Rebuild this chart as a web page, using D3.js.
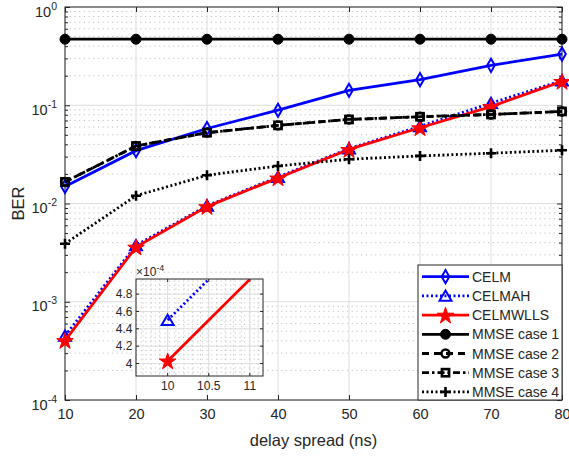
<!DOCTYPE html>
<html><head><meta charset="utf-8">
<script src="https://cdn.jsdelivr.net/npm/d3@7"></script>
<style>
body{margin:0;background:#fff}
text{font-family:"Liberation Sans",Arial,Helvetica,sans-serif;fill:#262626}
</style></head>
<body>
<svg id="c" width="569" height="457"></svg>
<script>
// ---------- data ----------
const delays   = [10, 20, 30, 40, 50, 60, 70, 80];
const celm     = [0.0149, 0.0345, 0.058, 0.089, 0.142, 0.182, 0.255, 0.332];
const celmah   = [4.5e-4, 3.75e-3, 9.5e-3, 0.0186, 0.0362, 0.061, 0.105, 0.178];
const celmwlls = [4.03e-4, 3.6e-3, 9.3e-3, 0.0182, 0.0355, 0.059, 0.097, 0.175];
const mmse1    = [0.47, 0.47, 0.47, 0.47, 0.47, 0.47, 0.47, 0.47];
const mmse2    = [0.0166, 0.0385, 0.0526, 0.0624, 0.0717, 0.0764, 0.0806, 0.0865];
const mmse3    = [0.0166, 0.0385, 0.0526, 0.0624, 0.0717, 0.0764, 0.0806, 0.0865];
const mmse4    = [0.0039, 0.012, 0.0194, 0.0241, 0.0282, 0.0305, 0.0325, 0.0348];
const xTicks   = [10, 20, 30, 40, 50, 60, 70, 80];
const yTicks   = [1e-4, 1e-3, 1e-2, 1e-1, 1];
const yTickExp = ["-4", "-3", "-2", "-1", "0"];
const seriesNames = ["CELM", "CELMAH", "CELMWLLS", "MMSE case 1", "MMSE case 2", "MMSE case 3", "MMSE case 4"];
// inset (values in units of 1e-4)
const insetCelmahX   = [10, 10.5];
const insetCelmahY   = [4.5, 4.97];
const insetCelmwllsX = [10, 11];
const insetCelmwllsY = [4.03, 4.97];
const insetXTicks = [10, 10.5, 11];
const insetYTicks = [4, 4.2, 4.4, 4.6, 4.8];
const insetXTickLabels = ["10", "10.5", "11"];
const insetYTickLabels = ["4", "4.2", "4.4", "4.6", "4.8"];

// ---------- setup ----------
const svg = d3.select("#c");
const L = 65, R = 562, T = 7, B = 400;
const x = d3.scaleLinear().domain([10, 80]).range([L, R]);
const y = d3.scaleLog().domain([1e-4, 1]).range([B, T]);
const AX = "#262626";

const minorY = [];
for (let e = -4; e < 0; e++) for (let k = 2; k <= 9; k++) minorY.push(k * Math.pow(10, e));

// grid
const grid = svg.append("g");
grid.selectAll(".mg").data(minorY).join("line")
  .attr("x1", L).attr("x2", R).attr("y1", d => y(d)).attr("y2", d => y(d))
  .attr("stroke", "#c2c2c2").attr("stroke-width", 1).attr("stroke-dasharray", "1.2,3.5");
grid.selectAll(".gx").data(xTicks).join("line")
  .attr("x1", d => x(d)).attr("x2", d => x(d)).attr("y1", T).attr("y2", B)
  .attr("stroke", "#dedede").attr("stroke-width", 1);
grid.selectAll(".gy").data(yTicks).join("line")
  .attr("x1", L).attr("x2", R).attr("y1", d => y(d)).attr("y2", d => y(d))
  .attr("stroke", "#dedede").attr("stroke-width", 1);

// axes
function styleAxis(g) {
  g.select(".domain").remove();
  g.selectAll("line").attr("stroke", AX);
}
svg.append("g").attr("transform", `translate(0,${B})`)
  .call(d3.axisBottom(x).tickValues(xTicks).tickSize(-5).tickPadding(9).tickFormat(d3.format("d")))
  .call(styleAxis)
  .call(g => g.selectAll("text").attr("font-size", 14.5).attr("fill", AX)
    .style("font-family", '"Liberation Sans",Arial,sans-serif'));
svg.append("g").attr("transform", `translate(0,${T})`)
  .call(d3.axisTop(x).tickValues(xTicks).tickSize(-5).tickFormat(""))
  .call(styleAxis);
svg.append("g").attr("transform", `translate(${L},0)`)
  .call(d3.axisLeft(y).tickValues(yTicks).tickSize(-5).tickFormat(""))
  .call(styleAxis);
svg.append("g").attr("transform", `translate(${L},0)`)
  .call(d3.axisLeft(y).tickValues(minorY).tickSize(-3).tickFormat(""))
  .call(styleAxis);
svg.append("g").attr("transform", `translate(${R},0)`)
  .call(d3.axisRight(y).tickValues(yTicks).tickSize(-5).tickFormat(""))
  .call(styleAxis);
svg.append("g").attr("transform", `translate(${R},0)`)
  .call(d3.axisRight(y).tickValues(minorY).tickSize(-3).tickFormat(""))
  .call(styleAxis);

// y tick labels with superscripts
const yl = svg.append("g");
yTicks.forEach((v, i) => {
  const t = yl.append("text").attr("x", 57).attr("y", y(v) + 9.5)
    .attr("text-anchor", "end").attr("font-size", 14.5);
  t.append("tspan").text("10");
  t.append("tspan").attr("dy", -7).attr("font-size", 10.5).text(yTickExp[i]);
});

// box
svg.append("rect").attr("x", L).attr("y", T).attr("width", R - L).attr("height", B - T)
  .attr("fill", "none").attr("stroke", AX).attr("stroke-width", 1);

// labels
svg.append("text").attr("x", (L + R) / 2).attr("y", 446).attr("text-anchor", "middle")
  .attr("font-size", 16.5).text("delay spread (ns)");
svg.append("text").attr("transform", `translate(24,${(T + B) / 2}) rotate(-90)`)
  .attr("text-anchor", "middle").attr("font-size", 16.5).text("BER");

// ---------- markers ----------
function drawMarker(g, type, cx, cy, color) {
  if (type === "diamond") {
    g.append("path").attr("d", d3.symbol(d3.symbolDiamond, 50)()).attr("transform", `translate(${cx},${cy})`)
      .attr("fill", "none").attr("stroke", color).attr("stroke-width", 2);
  } else if (type === "triangle") {
    g.append("path").attr("d", d3.symbol(d3.symbolTriangle, 62)()).attr("transform", `translate(${cx},${cy + 1.5})`)
      .attr("fill", "none").attr("stroke", color).attr("stroke-width", 2);
  } else if (type === "star") {
    g.append("path").attr("d", d3.symbol(d3.symbolStar, 85)()).attr("transform", `translate(${cx},${cy + 0.8})`)
      .attr("fill", color).attr("stroke", color).attr("stroke-width", 1);
  } else if (type === "circleFilled") {
    g.append("circle").attr("cx", cx).attr("cy", cy).attr("r", 5)
      .attr("fill", color).attr("stroke", color).attr("stroke-width", 1);
  } else if (type === "circleOpen") {
    g.append("circle").attr("cx", cx).attr("cy", cy).attr("r", 4)
      .attr("fill", "none").attr("stroke", color).attr("stroke-width", 2.4);
  } else if (type === "squareOpen") {
    g.append("rect").attr("x", cx - 3.6).attr("y", cy - 3.6).attr("width", 7.2).attr("height", 7.2)
      .attr("fill", "none").attr("stroke", color).attr("stroke-width", 2.6);
  } else if (type === "plus") {
    g.append("path").attr("d", `M${cx - 5},${cy}H${cx + 5}M${cx},${cy - 5}V${cy + 5}`)
      .attr("stroke", color).attr("stroke-width", 2.6).attr("fill", "none");
  }
}

const series = [
  {name: seriesNames[0], vals: celm,     color: "#0000ff", dash: null,          marker: "diamond"},
  {name: seriesNames[1], vals: celmah,   color: "#0000ff", dash: "2,2.5",       marker: "triangle"},
  {name: seriesNames[2], vals: celmwlls, color: "#ff0000", dash: null,          marker: "star"},
  {name: seriesNames[3], vals: mmse1,    color: "#000000", dash: null,          marker: "circleFilled"},
  {name: seriesNames[4], vals: mmse2,    color: "#000000", dash: "7,5",         marker: "circleOpen"},
  {name: seriesNames[5], vals: mmse3,    color: "#000000", dash: "7,3,2.5,3",   marker: "squareOpen"},
  {name: seriesNames[6], vals: mmse4,    color: "#000000", dash: "2,2.5",       marker: "plus"}
];

const line = d3.line().x(d => x(d[0])).y(d => y(d[1]));
const plot = svg.append("g");
series.forEach(s => {
  const g = plot.append("g");
  const pts = delays.map((d, i) => [d, s.vals[i]]);
  g.append("path").attr("d", line(pts)).attr("fill", "none").attr("stroke", s.color)
    .attr("stroke-width", 2.8).attr("stroke-dasharray", s.dash);
  pts.forEach(p => drawMarker(g, s.marker, x(p[0]), y(p[1]), s.color));
});

// ---------- inset ----------
const iL = 136, iR = 263, iT = 279, iB = 376;
const xi = d3.scaleLinear().domain([9.615, 11.16]).range([iL, iR]);
const yi = d3.scaleLinear().domain([3.856, 4.974]).range([iB, iT]);
const ig = svg.append("g");
ig.append("rect").attr("x", iL).attr("y", iT).attr("width", iR - iL).attr("height", iB - iT).attr("fill", "#fff");
const iMinorX = d3.range(97, 112).map(v => v / 10);
const iMinorY = d3.range(78, 100).map(v => v / 20);
ig.selectAll(".imx").data(iMinorX).join("line")
  .attr("x1", d => xi(d)).attr("x2", d => xi(d)).attr("y1", iT).attr("y2", iB)
  .attr("stroke", "#c6c6c6").attr("stroke-dasharray", "1.2,3.5");
ig.selectAll(".imy").data(iMinorY).join("line")
  .attr("x1", iL).attr("x2", iR).attr("y1", d => yi(d)).attr("y2", d => yi(d))
  .attr("stroke", "#c6c6c6").attr("stroke-dasharray", "1.2,3.5");
ig.selectAll(".igx").data(insetXTicks).join("line")
  .attr("x1", d => xi(d)).attr("x2", d => xi(d)).attr("y1", iT).attr("y2", iB).attr("stroke", "#dedede");
ig.selectAll(".igy").data(insetYTicks).join("line")
  .attr("x1", iL).attr("x2", iR).attr("y1", d => yi(d)).attr("y2", d => yi(d)).attr("stroke", "#dedede");
// ticks
ig.selectAll(".itb").data(insetXTicks).join("line")
  .attr("x1", d => xi(d)).attr("x2", d => xi(d)).attr("y1", iB).attr("y2", iB - 3).attr("stroke", AX);
ig.selectAll(".itt").data(insetXTicks).join("line")
  .attr("x1", d => xi(d)).attr("x2", d => xi(d)).attr("y1", iT).attr("y2", iT + 3).attr("stroke", AX);
ig.selectAll(".itl").data(insetYTicks).join("line")
  .attr("x1", iL).attr("x2", iL + 3).attr("y1", d => yi(d)).attr("y2", d => yi(d)).attr("stroke", AX);
ig.selectAll(".itr").data(insetYTicks).join("line")
  .attr("x1", iR).attr("x2", iR - 3).attr("y1", d => yi(d)).attr("y2", d => yi(d)).attr("stroke", AX);
ig.selectAll(".ixl").data(insetXTicks).join("text")
  .attr("x", d => xi(d)).attr("y", 390).attr("text-anchor", "middle").attr("font-size", 12)
  .text((d, i) => insetXTickLabels[i]);
ig.selectAll(".iyl").data(insetYTicks).join("text")
  .attr("x", 132.5).attr("y", d => yi(d) + 4.3).attr("text-anchor", "end").attr("font-size", 12)
  .text((d, i) => insetYTickLabels[i]);
const ex = ig.append("text").attr("x", iL).attr("y", 275.5).attr("font-size", 12);
ex.append("tspan").text("×10");
ex.append("tspan").attr("dy", -5).attr("font-size", 9).text("-4");
// inset lines
svg.append("clipPath").attr("id", "iclip").append("rect")
  .attr("x", iL).attr("y", iT).attr("width", iR - iL).attr("height", iB - iT);
const iline = d3.line().x(d => xi(d[0])).y(d => yi(d[1]));
const ipb = insetCelmahX.map((v, i) => [v, insetCelmahY[i]]);
const ipr = insetCelmwllsX.map((v, i) => [v, insetCelmwllsY[i]]);
ig.append("path").attr("d", iline(ipb)).attr("clip-path", "url(#iclip)").attr("fill", "none")
  .attr("stroke", "#0000ff").attr("stroke-width", 2.8).attr("stroke-dasharray", "2,2.5");
drawMarker(ig, "triangle", xi(ipb[0][0]), yi(ipb[0][1]), "#0000ff");
ig.append("path").attr("d", iline(ipr)).attr("clip-path", "url(#iclip)").attr("fill", "none")
  .attr("stroke", "#ff0000").attr("stroke-width", 2.8);
drawMarker(ig, "star", xi(ipr[0][0]), yi(ipr[0][1]), "#ff0000");
ig.append("rect").attr("x", iL).attr("y", iT).attr("width", iR - iL).attr("height", iB - iT)
  .attr("fill", "none").attr("stroke", AX).attr("stroke-width", 1);

// ---------- legend ----------
const lg = svg.append("g");
const lx0 = 418, ly0 = 265, lw = R - 418, lh = B - 265;
lg.append("rect").attr("x", lx0).attr("y", ly0).attr("width", lw).attr("height", lh)
  .attr("fill", "#fff").attr("stroke", AX).attr("stroke-width", 1);
series.forEach((s, i) => {
  const cy = 276.7 + i * 19.2;
  lg.append("line").attr("x1", 422).attr("x2", 469).attr("y1", cy).attr("y2", cy)
    .attr("stroke", s.color).attr("stroke-width", 2.8).attr("stroke-dasharray", s.dash);
  drawMarker(lg, s.marker, 445.5, cy, s.color);
  lg.append("text").attr("x", 472).attr("y", cy + 5).attr("font-size", 14).attr("fill", "#000").text(s.name);
});
</script>
</body></html>
